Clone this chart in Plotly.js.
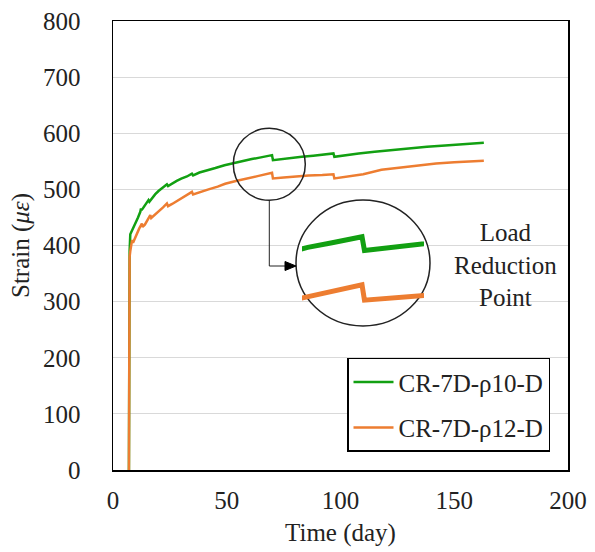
<!DOCTYPE html>
<html>
<head>
<meta charset="utf-8">
<script src="https://cdn.plot.ly/plotly-3.0.1.min.js"></script>
<style>
html,body{margin:0;padding:0;background:#fff;}
#chart{width:595px;height:552px;}
</style>
</head>
<body>
<div id="chart"></div>
<script>
// ---- data ----
const seriesNames = ['CR-7D-\u03C110-D', 'CR-7D-\u03C112-D'];
const greenDays = [7.0, 7.1, 7.3, 7.6, 8.2, 9, 10, 11, 12, 12.3, 12.6, 13.5, 14.5, 15.6, 16.0, 17, 18.5, 20, 22, 23.7, 24.2, 26, 28, 30, 32.5, 34.7, 35.2, 38, 41, 45, 49, 53, 57, 61, 65, 69.9, 70.3, 74, 78, 83, 88, 92, 96.9, 97.3, 102, 108, 115, 122, 130, 138, 146, 154, 163];
const greenStrain = [0, 250, 390, 420, 425, 432, 440, 450, 460, 466, 463, 468, 474, 481, 478, 484, 491, 497, 503, 509, 506, 511, 515, 519, 523, 528, 525, 530, 534, 538, 543, 547, 550, 554, 557, 561, 552, 554, 556, 558, 560, 562, 564, 558, 561, 564, 567, 570, 573, 576, 578, 580, 583];
const orangeDays = [7.0, 7.1, 7.3, 7.6, 8.0, 8.4, 8.8, 9.5, 10.5, 11.5, 12.7, 13.0, 14, 15, 16.4, 16.8, 18, 20, 22, 23.7, 24.2, 26, 29, 32, 34.7, 35.2, 38, 42, 46, 49.3, 54, 59, 64, 69.9, 70.3, 75, 80, 86, 92, 96.9, 97.3, 103, 110, 118, 126, 134, 142, 150, 163];
const orangeStrain = [0, 200, 380, 390, 402, 410, 405, 412, 422, 430, 439, 433, 437, 444, 454, 449, 453, 461, 468, 475, 470, 474, 481, 488, 495.5, 491, 495, 500, 505, 510, 515, 520, 524, 529.5, 519.5, 521, 523, 524.5, 525.5, 527, 519.5, 523, 527, 535, 539, 543, 546, 548.5, 551];
const xTicks = [0, 50, 100, 150, 200];
const yTicks = [0, 100, 200, 300, 400, 500, 600, 700, 800];
const insetLabel = 'Load<br>Reduction<br>Point';

// ---- styling / layout ----
const green = '#12A012', orange = '#ED7D31';
const FONT = 'Liberation Serif';
const W = 595, H = 552, L = 113, R = 27, T = 21, B = 82;
const PW = W - L - R, PH = H - T - B;
const fx = px => (px - L) / PW;          // pixel -> paper
const fy = py => (H - B - py) / PH;
const dxv = px => (px - L) / PW * 200;    // pixel -> main data x
const dyv = py => (H - B - py) / PH * 800;

const traces = [
  {x: greenDays, y: greenStrain, name: seriesNames[0], type: 'scatter', mode: 'lines',
   line: {color: green, width: 2.5}, legendgroup: 'a'},
  {x: orangeDays, y: orangeStrain, name: seriesNames[1], type: 'scatter', mode: 'lines',
   line: {color: orange, width: 2.5}, legendgroup: 'b'},
  {x: greenDays, y: greenStrain, xaxis: 'x2', yaxis: 'y2', type: 'scatter', mode: 'lines',
   line: {color: green, width: 5}, showlegend: false},
  {x: orangeDays, y: orangeStrain, xaxis: 'x2', yaxis: 'y2', type: 'scatter', mode: 'lines',
   line: {color: orange, width: 5}, showlegend: false}
];

const tickFont = {family: FONT, size: 25, color: '#222'};
const layout = {
  width: W, height: H,
  margin: {l: L, r: R, t: T, b: B, pad: 0},
  paper_bgcolor: '#fff', plot_bgcolor: 'rgba(0,0,0,0)',
  font: {family: FONT, size: 25, color: '#222'},
  showlegend: true,
  xaxis: {range: [0, 200], tickvals: xTicks, ticks: '', ticklabelstandoff: 7,
          showgrid: false, zeroline: false, showline: true, linecolor: '#000', linewidth: 1.5,
          mirror: true, tickfont: tickFont, fixedrange: true,
          title: {text: 'Time (day)', font: tickFont, standoff: 11}},
  yaxis: {range: [0, 800], tickvals: yTicks, ticks: '', ticklabelstandoff: 26,
          showgrid: true, gridcolor: '#d9d9d9', gridwidth: 1, zeroline: false,
          showline: true, linecolor: '#000', linewidth: 1.5, mirror: true,
          tickfont: tickFont, fixedrange: true,
          title: {text: 'Strain (<i>\u03BC\u03B5</i>)', font: tickFont, standoff: 6}},
  xaxis2: {domain: [fx(302), fx(424)], range: [60.06, 80.06], anchor: 'y2', visible: false, fixedrange: true},
  yaxis2: {domain: [fy(326), fy(200)], range: [502.6, 585], anchor: 'x2', visible: false, fixedrange: true},
  legend: {x: fx(347), y: fy(357.7), xanchor: 'left', yanchor: 'top',
           bgcolor: '#fff', bordercolor: '#000', borderwidth: 1.5,
           font: {family: FONT, size: 25, color: '#222'},
           traceorder: 'grouped', tracegroupgap: 10, itemwidth: 40},
  shapes: [
    {type: 'circle', xref: 'x', yref: 'y', layer: 'between',
     x0: dxv(296), x1: dxv(430), y0: dyv(326), y1: dyv(200),
     fillcolor: '#fff', line: {color: '#222', width: 1.5}},
    {type: 'circle', xref: 'paper', yref: 'paper', layer: 'above',
     x0: fx(233.3), x1: fx(305.3), y0: fy(200.3), y1: fy(128.3),
     line: {color: '#222', width: 1.5}},
    {type: 'path', xref: 'paper', yref: 'paper', layer: 'above',
     path: `M${fx(269.3)},${fy(200.3)} L${fx(269.3)},${fy(266)} L${fx(287)},${fy(266)}`,
     line: {color: '#222', width: 1}},
    {type: 'path', xref: 'paper', yref: 'paper', layer: 'above',
     path: `M${fx(285)},${fy(261.5)} L${fx(296)},${fy(266)} L${fx(285)},${fy(270.5)} Z`,
     fillcolor: '#000', line: {color: '#000', width: 1}}
  ],
  annotations: [
    {xref: 'paper', yref: 'paper', x: fx(505), y: fy(265), xanchor: 'center', yanchor: 'middle',
     text: insetLabel, showarrow: false, align: 'center',
     font: {family: FONT, size: 25, color: '#222'}}
  ]
};

Plotly.newPlot('chart', traces, layout, {staticPlot: true, displayModeBar: false});
</script>
</body>
</html>
